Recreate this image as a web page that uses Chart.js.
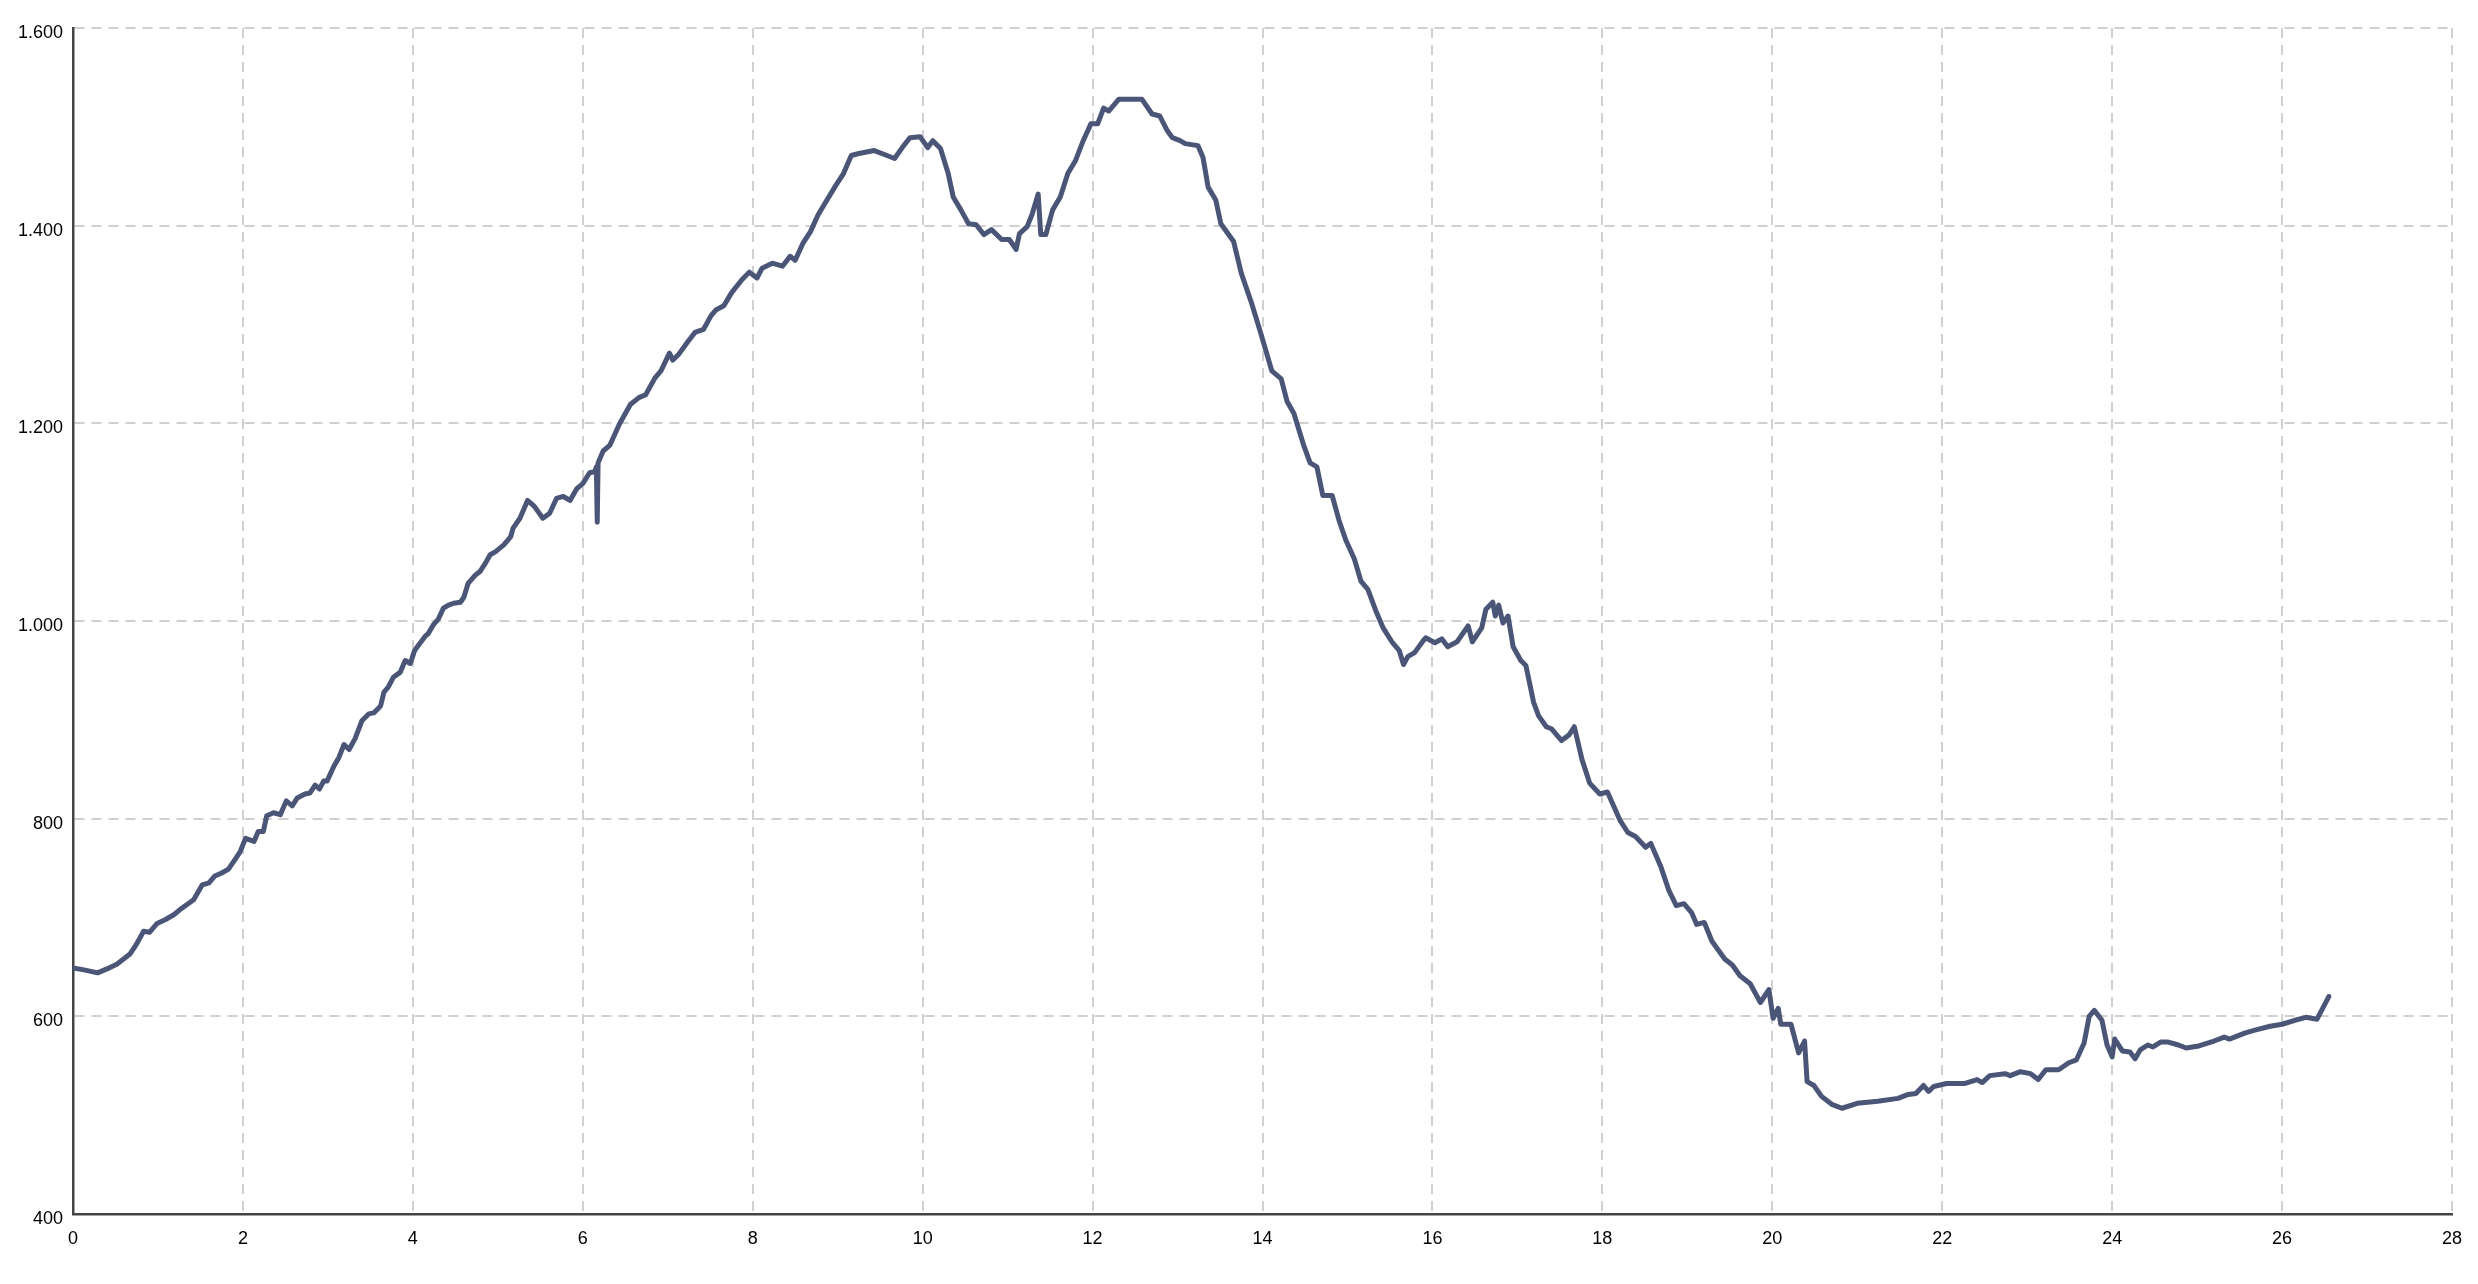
<!DOCTYPE html>
<html>
<head>
<meta charset="utf-8">
<title>Höhenprofil</title>
<script src="https://cdn.jsdelivr.net/npm/chart.js@4.4.1/dist/chart.umd.min.js"></script>
<style>
  html, body { margin: 0; padding: 0; background: #fff; }
  #wrap { width: 2478px; height: 1284px; position: relative; }
</style>
</head>
<body>
<div id="wrap"><canvas id="profile"></canvas></div>
<script>
// distance along the route (km)
const distKm = [
  0.00, 0.13, 0.29, 0.40, 0.52, 0.67, 0.74, 0.83, 0.90, 0.99, 1.09, 1.19, 1.26, 1.42, 1.52, 1.60,
  1.67, 1.75, 1.83, 1.91, 1.97, 2.03, 2.13, 2.18, 2.24, 2.28, 2.36, 2.44, 2.51, 2.58, 2.64, 2.73,
  2.79, 2.85, 2.90, 2.95, 2.99, 3.07, 3.13, 3.19, 3.25, 3.32, 3.40, 3.48, 3.54, 3.62, 3.66, 3.71,
  3.77, 3.85, 3.91, 3.97, 4.02, 4.07, 4.15, 4.18, 4.24, 4.30, 4.36, 4.42, 4.48, 4.56, 4.60, 4.65,
  4.73, 4.79, 4.85, 4.91, 4.97, 5.07, 5.15, 5.18, 5.26, 5.35, 5.43, 5.53, 5.61, 5.69, 5.77, 5.85,
  5.93, 6.00, 6.08, 6.14, 6.16, 6.17, 6.18, 6.24, 6.32, 6.43, 6.56, 6.66, 6.74, 6.85, 6.92, 7.02,
  7.06, 7.13, 7.24, 7.32, 7.42, 7.51, 7.57, 7.66, 7.75, 7.87, 7.96, 8.05, 8.11, 8.23, 8.35, 8.44,
  8.50, 8.59, 8.68, 8.77, 8.86, 8.98, 9.07, 9.16, 9.25, 9.43, 9.52, 9.67, 9.76, 9.85, 9.97, 10.06,
  10.12, 10.21, 10.30, 10.36, 10.45, 10.54, 10.63, 10.72, 10.81, 10.93, 11.02, 11.10, 11.14, 11.23, 11.29, 11.36,
  11.39, 11.45, 11.53, 11.62, 11.71, 11.80, 11.89, 11.98, 12.06, 12.13, 12.19, 12.31, 12.58, 12.70, 12.79, 12.88,
  12.94, 13.03, 13.09, 13.24, 13.30, 13.36, 13.45, 13.51, 13.66, 13.75, 13.87, 13.98, 14.11, 14.22, 14.29, 14.37,
  14.48, 14.56, 14.64, 14.71, 14.82, 14.90, 14.98, 15.08, 15.16, 15.24, 15.34, 15.42, 15.53, 15.61, 15.66, 15.71,
  15.79, 15.90, 15.92, 16.03, 16.11, 16.18, 16.29, 16.42, 16.47, 16.58, 16.63, 16.71, 16.74, 16.78, 16.83, 16.89,
  16.95, 17.04, 17.10, 17.19, 17.25, 17.34, 17.40, 17.52, 17.61, 17.67, 17.76, 17.85, 17.97, 18.06, 18.21, 18.30,
  18.39, 18.51, 18.57, 18.69, 18.78, 18.87, 18.96, 19.05, 19.11, 19.20, 19.29, 19.44, 19.53, 19.62, 19.74, 19.86,
  19.96, 20.01, 20.07, 20.10, 20.22, 20.31, 20.38, 20.41, 20.49, 20.58, 20.70, 20.82, 21.00, 21.24, 21.48, 21.60,
  21.69, 21.78, 21.84, 21.90, 22.05, 22.26, 22.41, 22.47, 22.56, 22.74, 22.80, 22.92, 23.04, 23.13, 23.22, 23.37,
  23.49, 23.58, 23.67, 23.73, 23.79, 23.88, 23.94, 24.00, 24.03, 24.12, 24.21, 24.27, 24.33, 24.42, 24.48, 24.57,
  24.66, 24.78, 24.87, 25.02, 25.20, 25.32, 25.38, 25.56, 25.68, 25.86, 26.00, 26.15, 26.28, 26.41, 26.55
];

// elevation (m)
const elevM = [
  649, 647, 644, 648, 653, 663, 672, 686, 685, 694, 698, 703, 708, 718, 733, 735,
  742, 745, 749, 759, 767, 780, 777, 787, 787, 803, 806, 804, 818, 813, 821, 825,
  826, 834, 830, 838, 838, 853, 862, 875, 870, 881, 899, 906, 907, 914, 928, 933,
  943, 948, 960, 957, 970, 976, 985, 987, 996, 1002, 1013, 1016, 1018, 1019, 1024, 1038,
  1046, 1050, 1058, 1067, 1070, 1077, 1085, 1094, 1104, 1122, 1116, 1104, 1109, 1124, 1126, 1122,
  1134, 1139, 1150, 1151, 1156, 1100, 1160, 1172, 1178, 1199, 1219, 1226, 1229, 1246, 1253, 1271,
  1264, 1270, 1283, 1292, 1295, 1309, 1315, 1319, 1332, 1345, 1353, 1347, 1357, 1362, 1359, 1369,
  1365, 1382, 1394, 1411, 1424, 1441, 1453, 1471, 1473, 1476, 1473, 1468, 1479, 1489, 1490, 1479,
  1486, 1478, 1453, 1429, 1416, 1402, 1401, 1391, 1396, 1386, 1386, 1376, 1392, 1399, 1412, 1432,
  1391, 1391, 1416, 1429, 1453, 1466, 1486, 1503, 1503, 1519, 1516, 1528, 1528, 1513, 1511, 1496,
  1489, 1486, 1483, 1481, 1469, 1439, 1426, 1402, 1384, 1352, 1322, 1291, 1253, 1245, 1222, 1210,
  1179, 1160, 1156, 1127, 1127, 1102, 1082, 1063, 1040, 1032, 1009, 993, 978, 970, 956, 964,
  968, 981, 983, 978, 982, 974, 979, 995, 979, 993, 1012, 1019, 1005, 1016, 998, 1005,
  974, 960, 955, 918, 904, 893, 891, 879, 885, 893, 860, 836, 825, 827, 798, 786,
  782, 771, 775, 751, 728, 712, 714, 705, 693, 695, 676, 658, 652, 641, 633, 614,
  627, 598, 608, 592, 592, 563, 575, 534, 530, 519, 511, 507, 512, 514, 517, 521,
  522, 530, 524, 529, 532, 532, 536, 533, 540, 542, 540, 544, 542, 536, 546, 546,
  553, 556, 573, 600, 606, 596, 571, 559, 577, 565, 564, 557, 566, 571, 569, 574,
  574, 571, 568, 570, 575, 579, 577, 583, 586, 590, 592, 596, 599, 597, 620
];

// axis ranges and tick steps
const xRange = [0, 28];
const xStep = 2;
const yRange = [400, 1600];
const yStep = 200;

const points = distKm.map((d, i) => ({ x: d, y: elevM[i] }));

// 1600 -> "1.600"
const fmtThousands = v => String(v).replace(/\B(?=(\d{3})+(?!\d))/g, '.');

const tickFont = { family: '"Liberation Sans", Arial, sans-serif', size: 18 };
const gridStyle = {
  color: '#d0d0d0',
  lineWidth: 2,
  drawTicks: false
};
const borderStyle = { display: true, color: '#444444', width: 2.5, dash: [] };

new Chart(document.getElementById('profile').getContext('2d'), {
  type: 'line',
  data: {
    datasets: [{
      data: points,
      borderColor: '#4a5577',
      borderWidth: 5,
      pointRadius: 0,
      tension: 0,
      fill: false,
      borderJoinStyle: 'round',
      borderCapStyle: 'round'
    }]
  },
  options: {
    responsive: true,
    maintainAspectRatio: false,
    animation: false,
    events: [],
    layout: { padding: { top: 28, right: 26, left: 0, bottom: 0 } },
    plugins: {
      legend: { display: false },
      tooltip: { enabled: false }
    },
    scales: {
      x: {
        type: 'linear',
        min: xRange[0],
        max: xRange[1],
        grid: gridStyle,
        border: { ...borderStyle, dash: [10, 7] },
        ticks: {
          stepSize: xStep,
          color: '#000',
          font: tickFont,
          padding: 14,
          maxRotation: 0
        },
        afterFit: s => { s.height = 70; }
      },
      y: {
        type: 'linear',
        min: yRange[0],
        max: yRange[1],
        grid: gridStyle,
        border: { ...borderStyle, dash: [10, 7] },
        ticks: {
          stepSize: yStep,
          color: '#000',
          font: tickFont,
          padding: 10,
          labelOffset: 5,
          callback: v => fmtThousands(v)
        },
        afterFit: s => { s.width = 73; }
      }
    }
  }
});
</script>
</body>
</html>
